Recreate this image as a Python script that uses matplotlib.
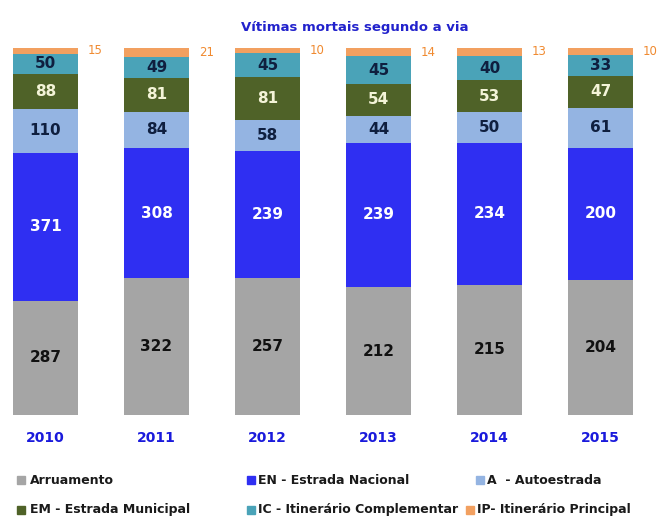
import numpy as np
import matplotlib
matplotlib.use('Agg')
import matplotlib.pyplot as plt
from matplotlib.patches import Rectangle

# Data: fatalities by road type
years = ['2010', '2011', '2012', '2013', '2014', '2015']
series = ['Arruamento', 'EN - Estrada Nacional', 'A  - Autoestrada',
          'EM - Estrada Municipal', 'IC - Itinerário Complementar', 'IP- Itinerário Principal']
arruamento = [287, 322, 257, 212, 215, 204]
en = [371, 308, 239, 239, 234, 200]
a = [110, 84, 58, 44, 50, 61]
em = [88, 81, 81, 54, 53, 47]
ic = [50, 49, 45, 45, 40, 33]
ip = [15, 21, 10, 14, 13, 10]

colors = ['#a5a5a5', '#2f2ff2', '#94b4e2', '#4f6228', '#4aa3b8', '#f2a060']
label_colors = ['#111111', 'white', '#0f1f3f', '#f4f4d8', '#0f1f3f', None]

data = np.array([arruamento, en, a, em, ic, ip], dtype=float)
totals = data.sum(axis=0)
frac = data / totals

W, H = 659, 520
fig = plt.figure(figsize=(W/100, H/100), dpi=100)
ax = fig.add_axes([0, 1 - 415/H, 1, 367/H])
x = np.arange(len(years))
width = 0.585
bottom = np.zeros(len(years))
for i in range(len(series)):
    ax.bar(x, frac[i], width, bottom=bottom, color=colors[i], label=series[i])
    for j in range(len(years)):
        if label_colors[i] is None:
            ax.text(x[j] + width/2 + 0.09, bottom[j] + frac[i][j]/2, str(int(data[i][j])),
                    color='#f08a30', fontsize=8.5, ha='left', va='center')
        else:
            ax.text(x[j], bottom[j] + frac[i][j]/2, str(int(data[i][j])),
                    color=label_colors[i], fontsize=11, fontweight='bold',
                    ha='center', va='center')
    bottom += frac[i]

ax.set_xlim(-45.5/111, (W-45.5)/111)
ax.set_ylim(0, 1)
ax.axis('off')
for j in range(len(years)):
    ax.text(x[j], -23/367, years[j], color='#1a1adc', fontsize=10, fontweight='bold',
            ha='center', va='center')

fig.text(355/W, 1 - 28/H, 'Vítimas mortais segundo a via', color='#2222cc',
         fontsize=9.5, fontweight='bold', ha='center', va='center')

# legend, placed by hand: (series index, marker x, text x, y)
legend_pos = [(0, 17, 30, 480), (1, 247, 258, 480), (2, 476, 487, 480),
              (3, 17, 30, 510), (4, 247, 258, 510), (5, 466, 477, 510)]
for k, mx, tx, ty in legend_pos:
    fig.patches.append(Rectangle((mx/W, 1 - (ty + 4)/H), 8/W, 8/H, color=colors[k],
                                 transform=fig.transFigure, figure=fig))
    fig.text(tx/W, 1 - ty/H, series[k], fontsize=9, fontweight='bold',
             color='#1a1a1a', ha='left', va='center')

plt.savefig('out.png', dpi=100)
